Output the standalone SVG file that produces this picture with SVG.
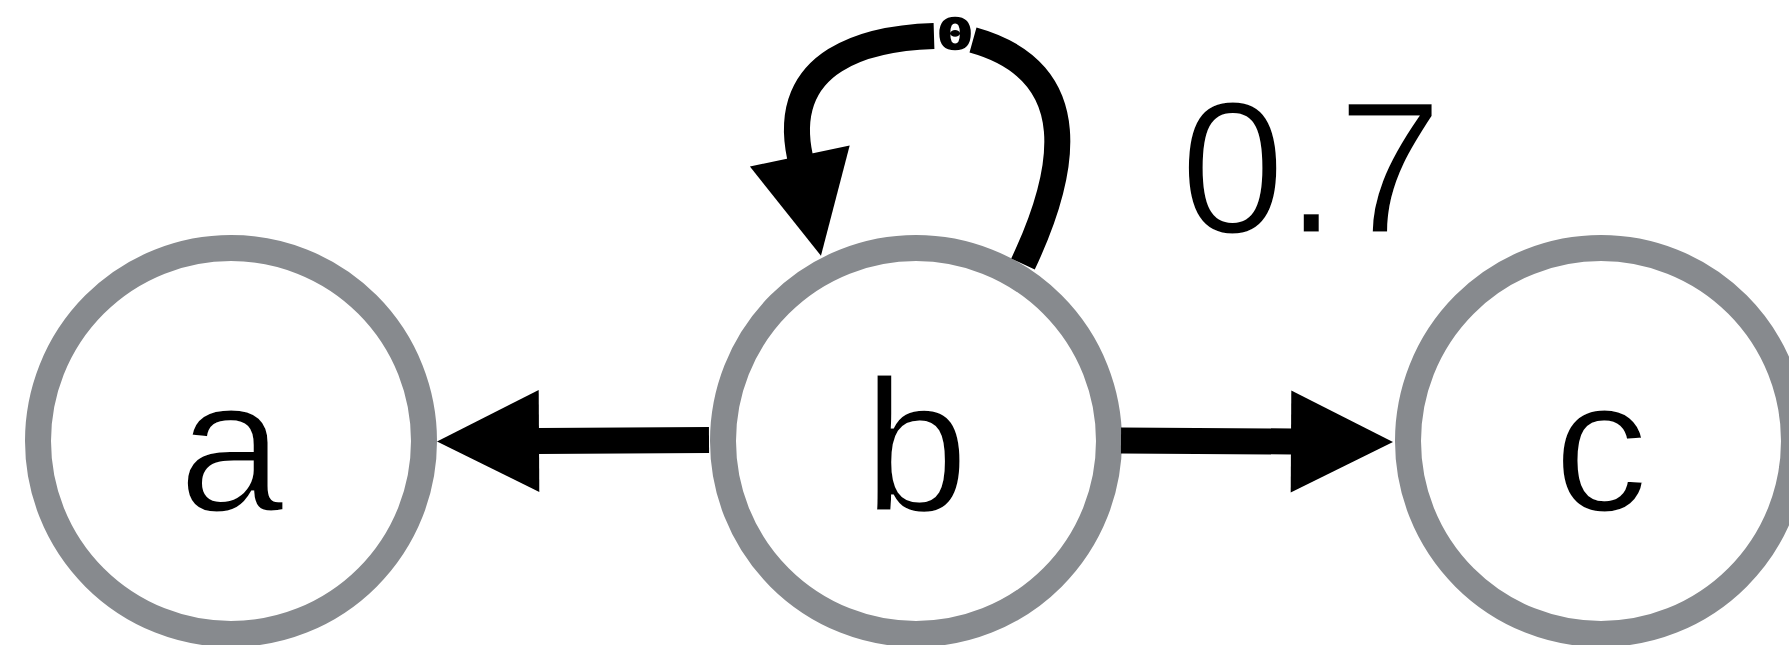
<svg xmlns="http://www.w3.org/2000/svg" width="1789" height="645" viewBox="0 0 1789 645">
  <style>
    .node circle { fill: #ffffff; stroke: #878a8e; stroke-width: 26; }
    .node text { font-family: "Liberation Sans", Arial, sans-serif; font-size: 190px; fill: #000000; text-anchor: middle; stroke: #ffffff; stroke-width: 3; }
    .edge { fill: none; stroke: #000000; stroke-width: 26; stroke-linecap: butt; }
    .arrow { marker-end: url(#head); }
    .label { font-family: "Liberation Sans", Arial, sans-serif; font-size: 189px; fill: #000000; stroke: #ffffff; stroke-width: 3; }
    .loop-label { font-family: "DejaVu Sans Mono", "Liberation Mono", monospace; font-weight: bold; font-size: 42px; fill: #000000; stroke: #000000; stroke-width: 1.5; text-anchor: middle; }
  </style>
  <defs>
    <marker id="head" markerUnits="userSpaceOnUse" viewBox="0 -52 104 104" markerWidth="104" markerHeight="104" refX="1" refY="0" orient="auto" overflow="visible">
      <path d="M0,-51 L102,0 L0,51 Z" fill="#000000"/>
    </marker>
  </defs>
  <rect width="1789" height="645" fill="#ffffff"/>

  <g id="nodes">
    <g id="node-a" class="node">
      <circle cx="231" cy="441" r="193"/>
      <text x="231" y="511">a</text>
    </g>
    <g id="node-b" class="node">
      <circle cx="916" cy="441" r="193"/>
      <text x="916" y="511">b</text>
    </g>
    <g id="node-c" class="node">
      <circle cx="1601" cy="441" r="193"/>
      <text x="1601" y="511">c</text>
    </g>
  </g>

  <g id="connectors">
    <!-- b -> a -->
    <path class="edge arrow" d="M 709 440 L 538 441"/>
    <!-- b -> c -->
    <path class="edge arrow" d="M 1121 440.5 L 1292 441.5"/>
    <!-- b -> b self loop, split around its label -->
    <path class="edge" d="M 1023 264 C 1065 175, 1088 72, 973 40"/>
    <path class="edge arrow" d="M 934 36 C 870 38, 779 58, 800 157"/>
    <text class="loop-label" transform="translate(955 49) scale(1.45 1)">0</text>
    <text class="label" x="1180" y="233">0.7</text>
  </g>
</svg>
